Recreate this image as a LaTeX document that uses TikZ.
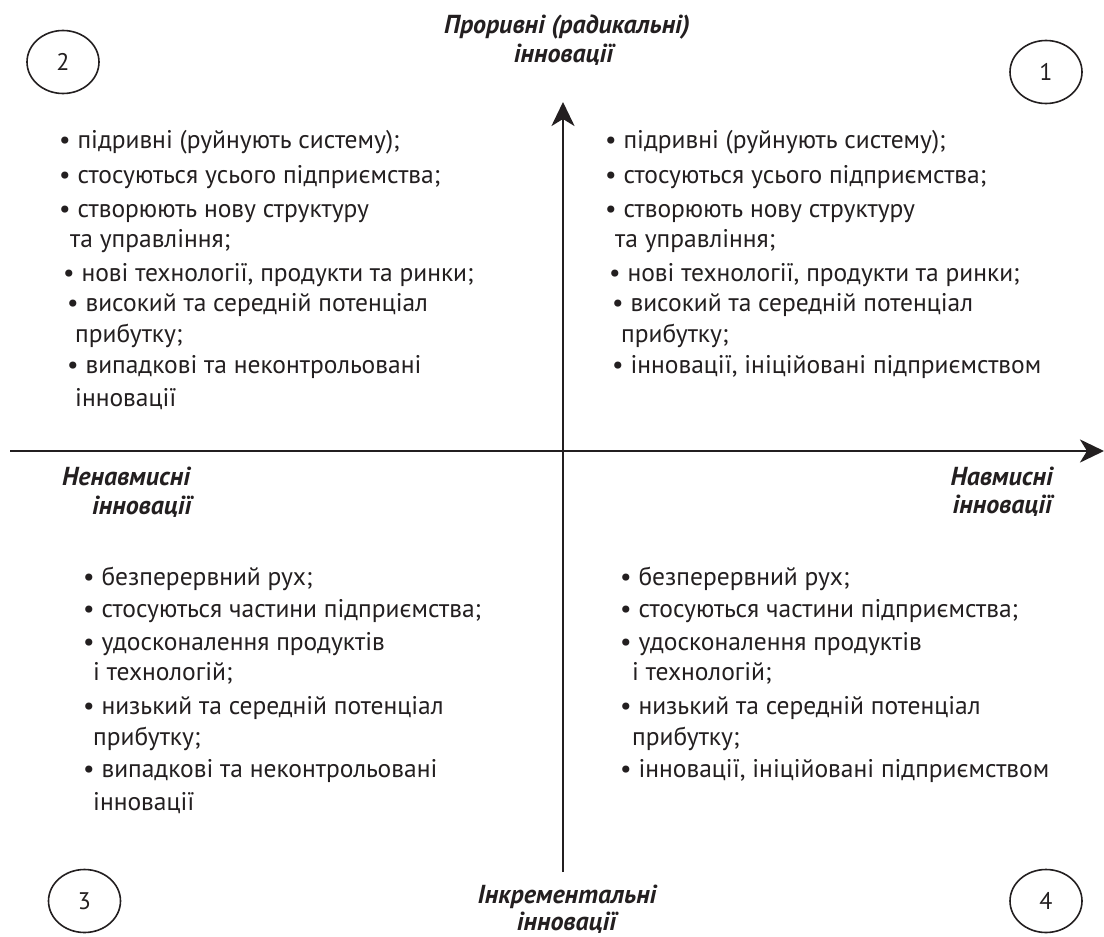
\documentclass[tikz,border=0pt]{standalone}
\usepackage{fontspec}
\setmainfont{PT Sans}
\usetikzlibrary{arrows.meta,shapes.geometric}
\definecolor{ink}{HTML}{231F20}
\begin{document}
\begin{tikzpicture}[x=1pt,y=-1pt,
  item/.style={anchor=base west,inner sep=0pt,text=ink,font=\fontsize{25.5}{30}\selectfont},
  head/.style={anchor=base,inner sep=0pt,text=ink,font=\fontsize{26}{30}\selectfont\bfseries\itshape},
  numb/.style={draw=ink,line width=1.6pt,ellipse,minimum width=72pt,minimum height=63pt,inner sep=0pt,text=ink,font=\fontsize{24}{28}\selectfont},
  axis/.style={draw=ink,line width=2.8pt,-{Stealth[length=24pt,width=23pt,inset=7pt]}}]
\useasboundingbox (0,0) rectangle (1104,937);
\fill[white] (0,0) rectangle (1104,937);
% axes
\coordinate (hl) at (10,451);
\coordinate (hr) at (1104,451);
\coordinate (vb) at (563,872);
\coordinate (vt) at (563,102);
\draw[axis] (hl) -- (hr);
\draw[axis] (vb) -- (vt);
% numbered ellipses
\node[numb] (n2) at (63,62) {2};
\node[numb] (n1) at (1046,72) {1};
\node[numb] (n3) at (84.5,901) {3};
\node[numb] (n4) at (1046,901) {4};
% axis headings
\node[head] (ht1) at (567,33) {Проривні (радикальні)};
\node[head] (ht2) at (564,62) {інновації};
\node[head,anchor=base west] (hl1) at (62,485) {Ненавмисні};
\node[head,anchor=base west] (hl2) at (92,514) {інновації};
\node[head,anchor=base east] (hr1) at (1053,485) {Навмисні};
\node[head,anchor=base east] (hr2) at (1053,513) {інновації};
\node[head] (hb1) at (567,903) {Інкрементальні};
\node[head] (hb2) at (567,930) {інновації};
% top-left quadrant
\node[item] (tl1) at (59,148) {• підривні (руйнують систему);};
\node[item] (tl2) at (59,183) {• стосуються усього підприємства;};
\node[item] (tl3) at (59,217) {• створюють нову структуру};
\node[item] (tl4) at (70,247) {та управління;};
\node[item] (tl5) at (63,281) {• нові технології, продукти та ринки;};
\node[item] (tl6) at (67,311) {• високий та середній потенціал};
\node[item] (tl7) at (75,342) {прибутку;};
\node[item] (tl8) at (67,373) {• випадкові та неконтрольовані};
\node[item] (tl9) at (75,406) {інновації};
% top-right quadrant
\node[item] (tr1) at (605,148) {• підривні (руйнують систему);};
\node[item] (tr2) at (605,183) {• стосуються усього підприємства;};
\node[item] (tr3) at (605,217) {• створюють нову структуру};
\node[item] (tr4) at (615,247) {та управління;};
\node[item] (tr5) at (609,281) {• нові технології, продукти та ринки;};
\node[item] (tr6) at (612,311) {• високий та середній потенціал};
\node[item] (tr7) at (621,342) {прибутку;};
\node[item] (tr8) at (612,373) {• інновації, ініційовані підприємством};
% bottom-left quadrant
\node[item] (bl1) at (83,585) {• безперервний рух;};
\node[item] (bl2) at (83,617) {• стосуються частини підприємства;};
\node[item] (bl3) at (83,650) {• удосконалення продуктів};
\node[item] (bl4) at (93,680) {і технологій;};
\node[item] (bl5) at (83,714) {• низький та середній потенціал};
\node[item] (bl6) at (93,745) {прибутку;};
\node[item] (bl7) at (83,777) {• випадкові та неконтрольовані};
\node[item] (bl8) at (93,810) {інновації};
% bottom-right quadrant
\node[item] (br1) at (620,585) {• безперервний рух;};
\node[item] (br2) at (620,617) {• стосуються частини підприємства;};
\node[item] (br3) at (620,650) {• удосконалення продуктів};
\node[item] (br4) at (632,680) {і технологій;};
\node[item] (br5) at (620,714) {• низький та середній потенціал};
\node[item] (br6) at (632,745) {прибутку;};
\node[item] (br7) at (620,777) {• інновації, ініційовані підприємством};
\end{tikzpicture}
\end{document}
